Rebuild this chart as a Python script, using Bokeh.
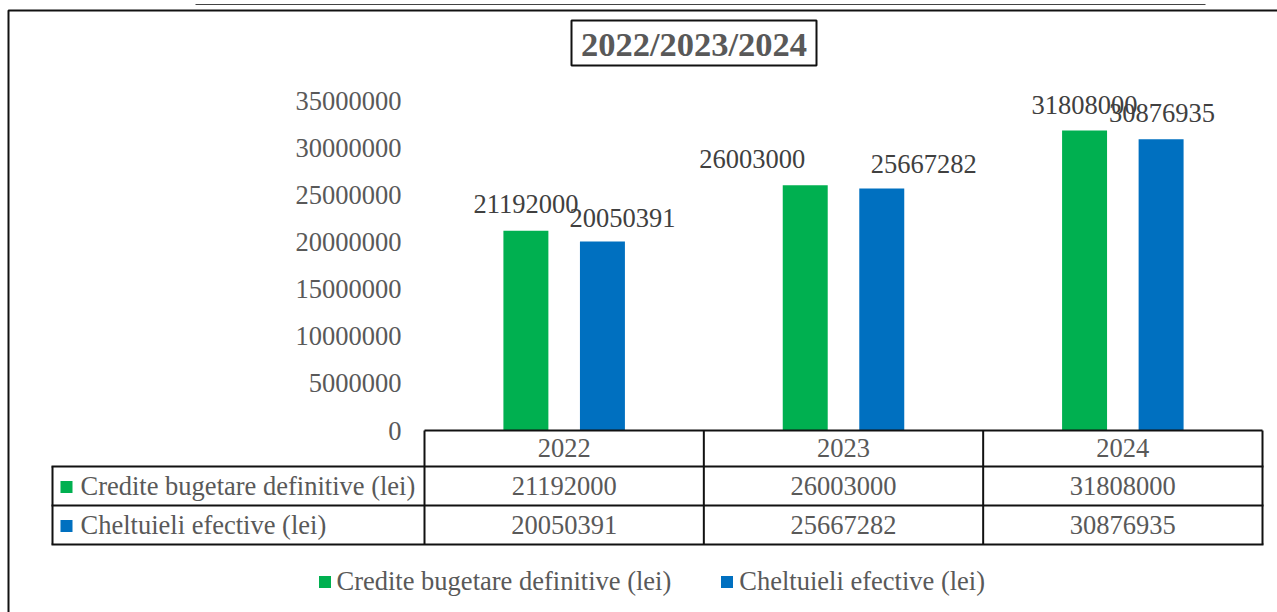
from bokeh.plotting import figure
from bokeh.models import (Range1d, FixedTicker, NumeralTickFormatter, LinearAxis,
                          ColumnDataSource, LabelSet, Label, BoxAnnotation, Legend, LegendItem)
from bokeh.transform import dodge
from bokeh.core.properties import value
from bokeh.embed import file_html
from bokeh.resources import INLINE

# ---------------- data ----------------
years = ["2022", "2023", "2024"]
credite = [21192000, 26003000, 31808000]
cheltuieli = [20050391, 25667282, 30876935]
series_names = ["Credite bugetare definitive (lei)", "Cheltuieli efective (lei)"]
y_ticks = [0, 5000000, 10000000, 15000000, 20000000, 25000000, 30000000, 35000000]
title_text = "2022/2023/2024"

# per-label nudges (pixels) of the bar value labels, as placed in the original
credite_label_dx = [0, -53, 0]
cheltuieli_label_dx = [20, 42, 1]
credite_label_dy = [18, 17, 17]
cheltuieli_label_dy = [14, 15, 17]

# ---------------- layout constants ----------------
W, H = 1277, 612
FL, FR, FT, FB = 424, 1262, 100, 430          # plot area inside the chart
FONT = "Liberation Serif"
FS = "26.5px"
GRAY = "#595959"
DARK = "#404040"
GREEN = "#00B050"
BLUE = "#0070C0"
LINE = "#111111"

ncat = len(years)
colw = (FR - FL) / ncat                      # pixels per category
ky = y_ticks[-1] / (FB - FT)                 # value per pixel
x_range = Range1d(-FL / colw, (W - FL) / colw)
y_range = Range1d(-(H - FB) * ky, y_ticks[-1] + FT * ky)

p = figure(width=W, height=H, x_range=x_range, y_range=y_range, output_backend="svg",
           toolbar_location=None, x_axis_location=None, y_axis_location=None,
           min_border=0, min_border_left=0, min_border_right=0, min_border_top=0, min_border_bottom=0)
p.xgrid.visible = False
p.ygrid.visible = False
p.outline_line_color = None
p.background_fill_color = "white"
p.border_fill_color = "white"

xc = [i + 0.5 for i in range(ncat)]

# y axis
yax = LinearAxis(fixed_location=0, ticker=FixedTicker(ticks=y_ticks),
                 formatter=NumeralTickFormatter(format="0"), bounds=(0, y_ticks[-1]))
yax.axis_line_color = None
yax.major_tick_line_color = None
yax.minor_tick_line_color = None
yax.major_tick_out = 0
yax.major_tick_in = 0
yax.major_label_standoff = 23
yax.major_label_text_font = FONT
yax.major_label_text_font_size = FS
yax.major_label_text_color = GRAY
p.add_layout(yax, "left")

# x axis (top line of the data table)
xax = LinearAxis(fixed_location=0, ticker=FixedTicker(ticks=xc), bounds=(0, ncat),
                 major_label_overrides={x: y for x, y in zip(xc, years)})
xax.axis_line_color = LINE
xax.axis_line_width = 2
xax.major_tick_line_color = None
xax.minor_tick_line_color = None
xax.major_tick_out = 0
xax.major_tick_in = 0
xax.major_label_standoff = 8
xax.major_label_text_font = FONT
xax.major_label_text_font_size = FS
xax.major_label_text_color = GRAY
p.add_layout(xax, "below")

src = ColumnDataSource(dict(
    xc=xc, year=years, credite=credite, cheltuieli=cheltuieli,
    credite_txt=[str(v) for v in credite], cheltuieli_txt=[str(v) for v in cheltuieli],
    dx1=credite_label_dx, dx2=cheltuieli_label_dx, dy1=credite_label_dy, dy2=cheltuieli_label_dy,
))

OFF, BW = 0.137, 0.161
r1 = p.vbar(x=dodge("xc", -OFF), top="credite", width=BW, source=src,
            fill_color=GREEN, line_color=None)
r2 = p.vbar(x=dodge("xc", OFF), top="cheltuieli", width=BW, source=src,
            fill_color=BLUE, line_color=None)

for xs, ys, txt, dx, dy in [(-OFF, "credite", "credite_txt", "dx1", "dy1"),
                            (OFF, "cheltuieli", "cheltuieli_txt", "dx2", "dy2")]:
    p.add_layout(LabelSet(x=dodge("xc", xs), y=ys, text=txt, source=src,
                          x_offset=dx, y_offset=dy, text_align="center", text_baseline="alphabetic",
                          text_font=value(FONT), text_font_size=FS, text_color=DARK))

# helpers: canvas pixel -> screen units (frame == canvas here)
def sx(cx):
    return cx

def sy(cy):
    return H - cy

def box(l, r, t, b, fill=None, line=None, lw=1):
    kw = dict(left=sx(l), right=sx(r), top=sy(t), bottom=sy(b),
              left_units="screen", right_units="screen", top_units="screen", bottom_units="screen",
              line_color=line, line_width=lw, line_alpha=1, level="overlay")
    if fill is None:
        kw.update(fill_alpha=0, fill_color=None)
    else:
        kw.update(fill_color=fill, fill_alpha=1)
    p.add_layout(BoxAnnotation(**kw))

def hline(x0, x1, y, w=2, c=LINE):
    box(x0, x1, y - w / 2, y + w / 2, fill=c)

def vline(x, y0, y1, w=2, c=LINE):
    box(x - w / 2, x + w / 2, y0, y1, fill=c)

# data table
ROWS = [430, 466, 505, 544]
TL = 52
for y in ROWS[1:]:
    hline(TL - 1, FR + 1, y)
vline(TL, ROWS[1], ROWS[3])
for i in range(ncat + 1):
    vline(FL + i * colw, ROWS[0], ROWS[3])

row_c = [(ROWS[1] + ROWS[2]) / 2, (ROWS[2] + ROWS[3]) / 2]
for vals, rc in [(credite, row_c[0]), (cheltuieli, row_c[1])]:
    tsrc = ColumnDataSource(dict(xc=xc, txt=[str(v) for v in vals]))
    p.add_layout(LabelSet(x="xc", y=sy(rc), y_units="screen", text="txt", source=tsrc,
                          text_align="center", text_baseline="middle",
                          text_font=value(FONT), text_font_size=FS, text_color=GRAY))

for name, col, rc in [(series_names[0], GREEN, row_c[0]), (series_names[1], BLUE, row_c[1])]:
    box(60, 72, rc - 5, rc + 7, fill=col)
    p.add_layout(Label(x=sx(80), y=sy(rc), x_units="screen", y_units="screen", text=name,
                       text_align="left", text_baseline="middle", text_font=FONT,
                       text_font_size=FS, text_color=GRAY))

# title with box
box(571, 816, 20, 65, line=LINE, lw=2)
p.add_layout(Label(x=sx(693.5), y=sy(43), x_units="screen", y_units="screen", text=title_text,
                   text_align="center", text_baseline="middle", text_font=FONT,
                   text_font_style="bold", text_font_size="34.5px", text_color=GRAY))

# outer chart border and page rule
box(8, 1320, 10, 700, line=LINE, lw=2)
hline(195, 1205, 4, w=1, c="#444444")

# legend
legend = Legend(items=[LegendItem(label=series_names[0], renderers=[r1]),
                       LegendItem(label=series_names[1], renderers=[r2])],
                orientation="horizontal", location=(sx(316.5), H - 597),
                glyph_width=15, glyph_height=15, label_standoff=5, spacing=48,
                padding=0, margin=0, border_line_color=None, background_fill_alpha=0,
                label_text_font=FONT, label_text_font_size=FS, label_text_color=GRAY)
p.add_layout(legend, "center")

open("out.html", "w").write(file_html(p, INLINE))
